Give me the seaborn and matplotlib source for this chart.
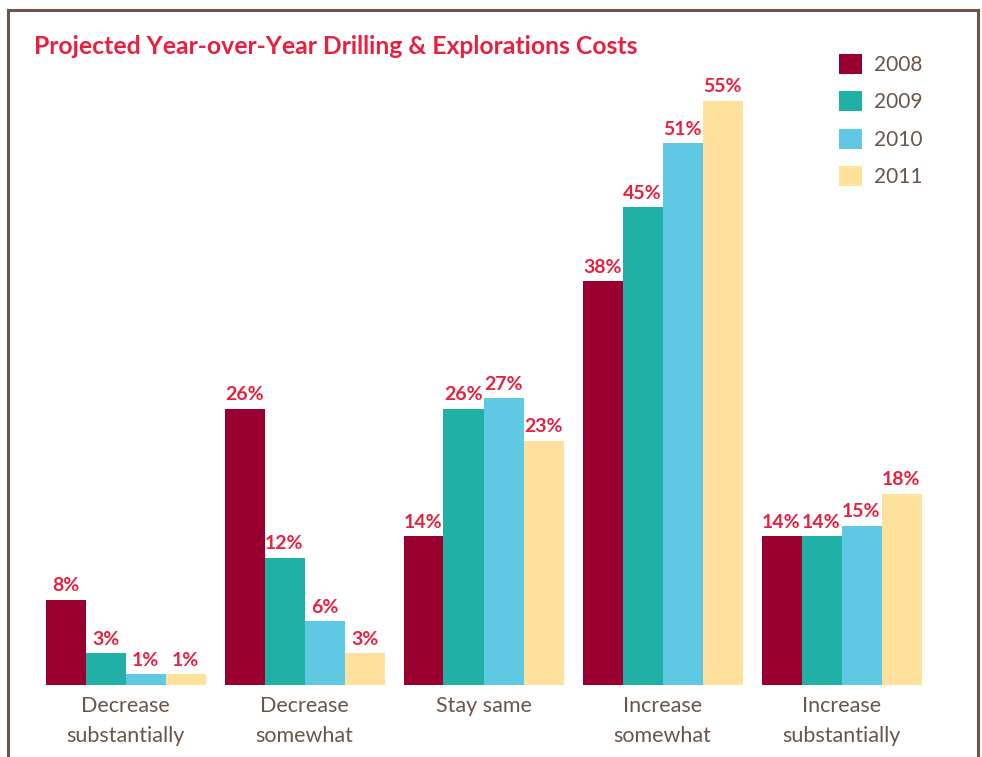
import matplotlib
matplotlib.use("Agg")
import matplotlib.pyplot as plt
from matplotlib.lines import Line2D
import seaborn as sns
import pandas as pd

categories = ["Decrease\nsubstantially", "Decrease\nsomewhat", "Stay same",
              "Increase\nsomewhat", "Increase\nsubstantially"]
years = ["2008", "2009", "2010", "2011"]
v2008 = [8, 26, 14, 38, 14]
v2009 = [3, 12, 26, 45, 14]
v2010 = [1, 6, 27, 51, 15]
v2011 = [1, 3, 23, 55, 18]
colors = ["#990030", "#20B0A5", "#5FC9E4", "#FEE19A"]

rows = []
for y, vals in zip(years, [v2008, v2009, v2010, v2011]):
    for c, v in zip(categories, vals):
        rows.append({"category": c, "year": y, "value": v})
df = pd.DataFrame(rows)

sns.set_theme(style="white")
plt.rcParams["font.family"] = ["Lato", "DejaVu Sans"]

RED = "#E8203F"
BROWN = "#6B5548"

fig = plt.figure(figsize=(9.82, 7.57), dpi=100)
ax = fig.add_axes([36 / 982, 72 / 757, 895 / 982, 637.2 / 757])

sns.barplot(data=df, x="category", y="value", hue="year", order=categories,
            hue_order=years, palette=colors, width=160 / 179, dodge=True,
            saturation=1, ax=ax, linewidth=0, errorbar=None)

for cont in ax.containers:
    ax.bar_label(cont, fmt="%d%%", padding=4, color=RED, fontweight="bold",
                 fontsize=14)

ax.set_xlim(-0.5, 4.5)
ax.set_ylim(0, 60)
ax.set_xlabel("")
ax.set_ylabel("")
ax.set_yticks([])
ax.tick_params(axis="x", length=0, pad=8, labelsize=15.5, labelcolor=BROWN)
for lab in ax.get_xticklabels():
    lab.set_linespacing(1.6)
for s in ax.spines.values():
    s.set_visible(False)

leg = ax.legend(loc="upper left", bbox_to_anchor=(839 / 982, 1 - 54 / 757),
                bbox_transform=fig.transFigure, frameon=False, fontsize=15,
                handlelength=1.1, handleheight=1.1, labelspacing=0.78,
                handletextpad=0.6, borderpad=0, borderaxespad=0)
for t in leg.get_texts():
    t.set_color(BROWN)

fig.text(34 / 982, 1 - 46 / 757, "Projected Year-over-Year Drilling & Explorations Costs",
         color=RED, fontsize=17.8, fontweight="bold", va="center", ha="left")

lw = 2.2
fig.add_artist(Line2D([8 / 982, 8 / 982], [0, 1 - 9.5 / 757], transform=fig.transFigure,
                      color=BROWN, linewidth=lw, solid_capstyle="projecting"))
fig.add_artist(Line2D([8 / 982, 978 / 982], [1 - 9.5 / 757, 1 - 9.5 / 757],
                      transform=fig.transFigure, color=BROWN, linewidth=lw,
                      solid_capstyle="projecting"))
fig.add_artist(Line2D([978 / 982, 978 / 982], [0, 1 - 9.5 / 757], transform=fig.transFigure,
                      color=BROWN, linewidth=lw, solid_capstyle="projecting"))

fig.savefig("out.png", dpi=100)
